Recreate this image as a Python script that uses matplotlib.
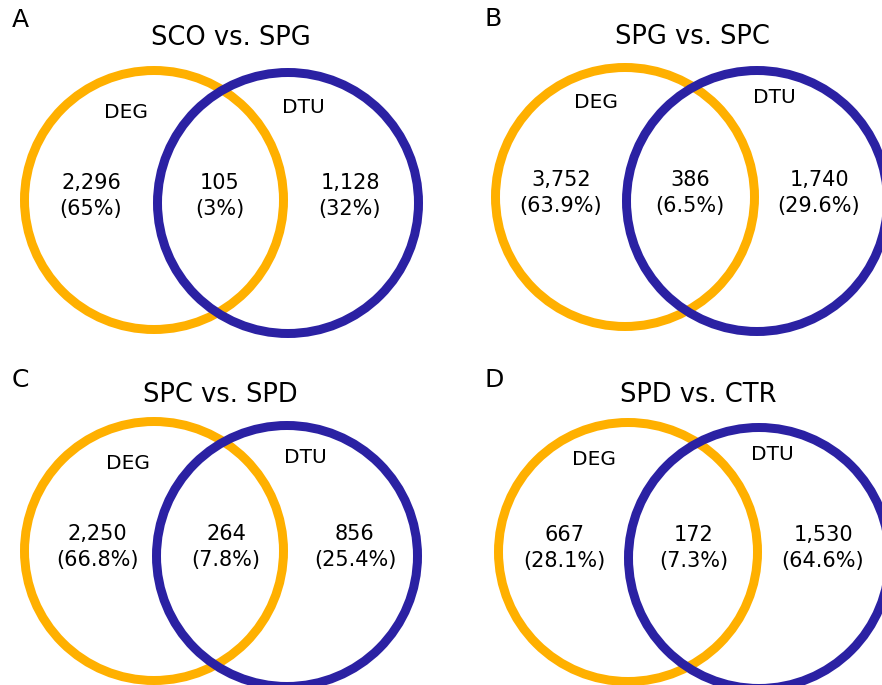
import matplotlib.pyplot as plt
from matplotlib.patches import Circle

# panel data
panels = ['A', 'B', 'C', 'D']
titles = ['SCO vs. SPG', 'SPG vs. SPC', 'SPC vs. SPD', 'SPD vs. CTR']
deg_only = ['2,296', '3,752', '2,250', '667']
both = ['105', '386', '264', '172']
dtu_only = ['1,128', '1,740', '856', '1,530']
deg_pct = ['(65%)', '(63.9%)', '(66.8%)', '(28.1%)']
both_pct = ['(3%)', '(6.5%)', '(7.8%)', '(7.3%)']
dtu_pct = ['(32%)', '(29.6%)', '(25.4%)', '(64.6%)']

ORANGE = '#FFB000'
BLUE = '#2B21A3'

# layout in pixel coords: (orange center, blue center, letter pos, title pos,
# DEG pos, DTU pos, x of the three counts, y of count line)
layout = [
    dict(oc=(154, 200), bc=(288, 203), letter=(20, 20), title=(231, 38),
         deg=(126, 112), dtu=(303, 107), nx=(91, 220, 350), ny=183),
    dict(oc=(625, 197), bc=(757, 201), letter=(493, 19), title=(692, 37),
         deg=(596, 102), dtu=(774, 97), nx=(561, 690, 819), ny=180),
    dict(oc=(154, 551), bc=(287, 556), letter=(20, 380), title=(220, 395),
         deg=(128, 463), dtu=(305, 457), nx=(97, 226, 355), ny=534),
    dict(oc=(628, 552), bc=(759, 558), letter=(494, 380), title=(698, 395),
         deg=(594, 459), dtu=(772, 454), nx=(564, 694, 823), ny=535),
]

R = 129.5
LW = 9.0 * 72 / 100  # px -> pt

fig = plt.figure(figsize=(8.82, 6.85), dpi=100)
ax = fig.add_axes([0, 0, 1, 1])
ax.set_xlim(0, 882)
ax.set_ylim(685, 0)
ax.axis('off')

for i, p in enumerate(layout):
    ax.add_patch(Circle(p['oc'], R, fill=False, ec=ORANGE, lw=LW, zorder=1))
    ax.add_patch(Circle(p['bc'], R + 1, fill=False, ec=BLUE, lw=LW, zorder=2))
    ax.text(*p['letter'], panels[i], fontsize=18, ha='center', va='center')
    ax.text(*p['title'], titles[i], fontsize=18.5, ha='center', va='center')
    ax.text(*p['deg'], 'DEG', fontsize=14.5, ha='center', va='center')
    ax.text(*p['dtu'], 'DTU', fontsize=14.5, ha='center', va='center')
    counts = [deg_only[i], both[i], dtu_only[i]]
    pcts = [deg_pct[i], both_pct[i], dtu_pct[i]]
    for x, c, pc in zip(p['nx'], counts, pcts):
        ax.text(x, p['ny'], c, fontsize=15, ha='center', va='center')
        ax.text(x, p['ny'] + 26, pc, fontsize=15, ha='center', va='center')

fig.savefig('out.png', dpi=100)
